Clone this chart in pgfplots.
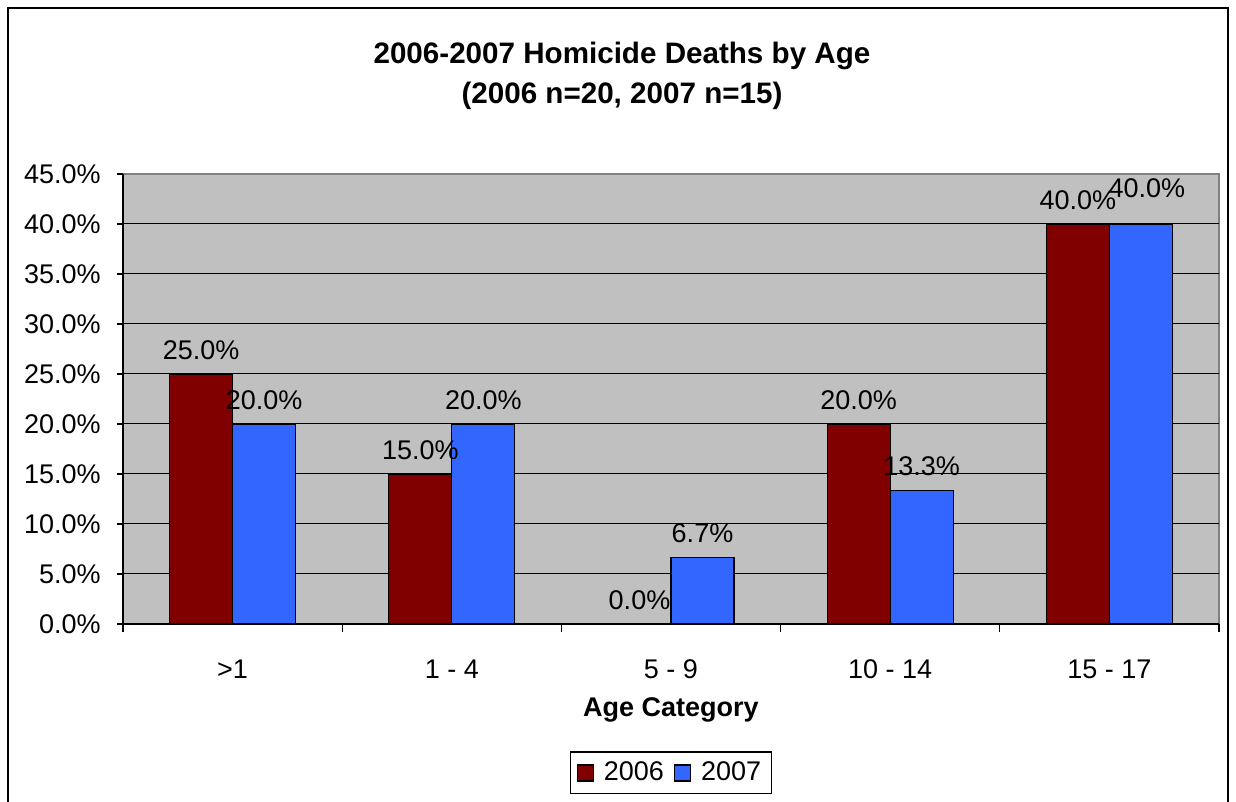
\documentclass[border=0pt]{standalone}
\usepackage{fontspec}
\setmainfont{Liberation Sans}
\usepackage{pgfplots}
\pgfplotsset{compat=1.18}
\definecolor{c06}{HTML}{800000}
\definecolor{c07}{HTML}{3366FF}
\definecolor{plotbg}{HTML}{C0C0C0}

\pgfplotstableread{
x y06 y07
0 25 20
1 15 20
2 0 6.67
3 20 13.33
4 40 40
}\homicide

\begin{document}
\begin{tikzpicture}
\useasboundingbox (0,0) rectangle (618pt,401pt);
\draw[black, line width=0.6pt] (4pt,-2pt) -- (4pt,397pt) -- (614pt,397pt) -- (614pt,-2pt);
\node[font=\fontsize{14.8}{20}\selectfont\bfseries, align=center] at (311pt,363pt)
  {2006-2007 Homicide Deaths by Age\\(2006 n=20, 2007 n=15)};
\begin{axis}[
  at={(61.5pt,89pt)}, anchor=south west,
  scale only axis, width=548pt, height=225pt,
  font=\fontsize{13.5}{16}\selectfont,
  /pgf/number format/assume math mode=true,
  xmin=-0.5, xmax=4.5, ymin=0, ymax=45,
  ybar=0pt, bar width=31.5pt,
  axis background/.style={fill=plotbg, draw=gray, line width=0.6pt},
  axis lines*=left, axis line style={-, black, line width=0.6pt},
  xtick={0,...,4}, xticklabels={>1, 1 - 4, 5 - 9, 10 - 14, 15 - 17},
  minor xtick={-0.5,0.5,...,4.5},
  every major x tick/.append style={draw=none},
  tick align=outside, major tick length=3pt, minor tick length=4pt,
  tick style={black, line width=0.6pt},
  xticklabel style={anchor=center, yshift=-19.5pt},
  ytick={0,5,...,45},
  yticklabel={\pgfmathprintnumber[fixed,fixed zerofill,precision=1]{\tick}\%},
  yticklabel style={anchor=east, inner sep=0pt, xshift=-8pt},
  extra y ticks={5,10,...,40}, extra y tick labels={},
  extra y tick style={grid=major, major grid style={black, line width=0.5pt}},
  xlabel={\bfseries Age Category},
  xlabel style={at={(axis description cs:0.5,-0.191)}, anchor=center},
  nodes near coords={\pgfmathprintnumber[fixed,fixed zerofill,precision=1]{\pgfplotspointmeta}\%},
  every node near coord/.append style={anchor=south, inner sep=0pt, yshift=7pt, text=black},
  legend columns=-1,
  legend style={at={(0.5,-0.331)}, anchor=center, draw=black, line width=0.6pt,
    inner xsep=3pt, inner ysep=3pt, column sep=3pt},
  legend image code/.code={\draw[#1, line width=0.6pt] (0pt,-4pt) rectangle (8pt,4pt);},
]
\addplot[fill=c06, draw=black, line width=0.6pt] table[x=x, y=y06] {\homicide};
\addplot[fill=c07, draw=black, line width=0.6pt,
  visualization depends on={x \as \rawx},
  every node near coord/.append style={yshift={ifthenelse(\rawx==4,6,0)}, xshift={ifthenelse(\rawx==4,3,0)}}]
  table[x=x, y=y07] {\homicide};
\legend{2006, 2007}
\end{axis}
\end{tikzpicture}
\end{document}
